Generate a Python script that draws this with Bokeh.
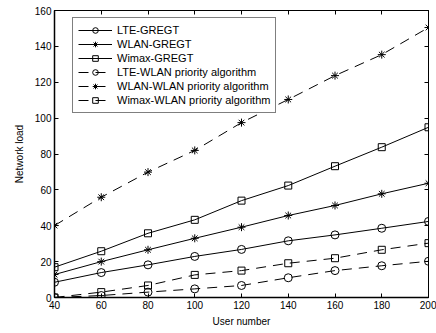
from bokeh.plotting import figure
from bokeh.models import LinearAxis, FixedTicker, Range1d
from bokeh.embed import file_html
from bokeh.resources import INLINE

users = [40, 60, 80, 100, 120, 140, 160, 180, 200]
lte_gregt = [8.5, 13.9, 18.2, 22.9, 26.8, 31.6, 34.9, 38.6, 42.4]
wlan_gregt = [12.8, 20.0, 26.6, 33.0, 39.2, 45.7, 51.3, 57.8, 63.7]
wimax_gregt = [16.9, 25.8, 35.8, 43.3, 54.0, 62.4, 73.2, 83.8, 94.9]
lte_prio = [0.0, 1.1, 3.0, 4.8, 6.7, 11.0, 15.0, 17.7, 20.2]
wlan_prio = [40.1, 55.9, 69.9, 82.0, 97.5, 110.4, 123.7, 135.4, 150.5]
wimax_prio = [0.0, 3.0, 6.7, 12.6, 15.0, 19.1, 21.9, 26.6, 30.3]

series = [
    ("LTE-GREGT", lte_gregt, "circle", "solid"),
    ("WLAN-GREGT", wlan_gregt, "asterisk", "solid"),
    ("Wimax-GREGT", wimax_gregt, "square", "solid"),
    ("LTE-WLAN priority algorithm", lte_prio, "circle", "10 7"),
    ("WLAN-WLAN priority algorithm", wlan_prio, "asterisk", "10 7"),
    ("Wimax-WLAN priority algorithm", wimax_prio, "square", "10 7"),
]
x_ticks = [40, 60, 80, 100, 120, 140, 160, 180, 200]
y_ticks = [0, 20, 40, 60, 80, 100, 120, 140, 160]

FONT = "Liberation Sans"

p = figure(width=436, height=333, output_backend="svg", toolbar_location=None,
           x_range=Range1d(40, 200), y_range=Range1d(0, 160),
           min_border_left=54, min_border_right=8, min_border_top=10, min_border_bottom=36)
p.background_fill_color = "white"
p.border_fill_color = "white"
p.outline_line_color = "black"
p.outline_line_width = 1
p.xgrid.visible = False
p.ygrid.visible = False

for lab, vals, mk, dash in series:
    p.line(users, vals, line_color="black", line_width=1, line_dash=dash, legend_label=lab)
    sz = 8 if mk == "circle" else (7 if mk == "square" else 8)
    p.scatter(users, vals, marker=mk, size=sz, line_color="black", fill_color=None,
              line_width=1, legend_label=lab)

xa = p.xaxis[0]
ya = p.yaxis[0]
xa.ticker = FixedTicker(ticks=x_ticks)
ya.ticker = FixedTicker(ticks=y_ticks)
for ax in (xa, ya):
    ax.major_tick_in = 4
    ax.major_tick_out = 0
    ax.minor_tick_line_color = None
    ax.axis_line_color = "black"
    ax.axis_line_width = 1.5
    ax.major_tick_line_color = "black"
    ax.major_label_text_font = FONT
    ax.major_label_text_font_size = "10px"
    ax.major_label_text_color = "black"
    ax.axis_label_text_font = FONT
    ax.axis_label_text_font_size = "10px"
    ax.axis_label_text_font_style = "normal"
    ax.axis_label_text_color = "black"
    ax.major_label_standoff = 3
xa.axis_label = "User number"
ya.axis_label = "Network load"
xa.axis_label_standoff = 4
ya.axis_label_standoff = 7

top = LinearAxis(ticker=FixedTicker(ticks=x_ticks))
right = LinearAxis(ticker=FixedTicker(ticks=y_ticks))
for ax in (top, right):
    ax.major_tick_in = 4
    ax.major_tick_out = 0
    ax.minor_tick_line_color = None
    ax.major_label_text_font_size = "1px"
    ax.major_label_text_color = None
    ax.major_label_standoff = 0
    ax.axis_line_color = "black"
p.add_layout(top, "above")
p.add_layout(right, "right")

lg = p.legend[0]
lg.location = (18, 184)
lg.border_line_color = "black"
lg.border_line_width = 1
lg.background_fill_color = "white"
lg.background_fill_alpha = 1
lg.label_text_font = FONT
lg.label_text_font_size = "11px"
lg.label_text_color = "black"
lg.glyph_width = 34
lg.glyph_height = 14
lg.label_height = 14
lg.label_standoff = 5
lg.spacing = 0
lg.padding = 5
lg.margin = 0

open("out.html", "w").write(file_html(p, INLINE))
